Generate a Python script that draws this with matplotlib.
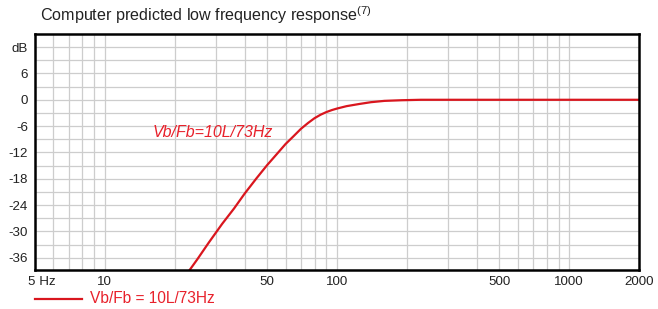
import matplotlib
matplotlib.use("Agg")
import matplotlib.pyplot as plt
import matplotlib.transforms as mtransforms
from matplotlib.lines import Line2D

plt.rcParams['font.family'] = ['Liberation Sans', 'DejaVu Sans']

# Data
freq_hz = [22, 25, 28, 32, 36, 40, 45, 50, 55, 60, 65, 70, 75, 80, 85, 90, 95,
           100, 110, 125, 140, 160, 190, 230, 2000]
response_db = [-40.5, -36.4, -32.6, -28.3, -24.8, -21.4, -17.9, -14.9, -12.4,
               -10.1, -8.3, -6.6, -5.3, -4.2, -3.4, -2.8, -2.35,
               -2.0, -1.45, -0.95, -0.55, -0.25, -0.1, 0.0, 0.0]

x_tick_values = [5, 10, 50, 100, 500, 1000, 2000]
x_tick_labels = ["5 Hz", "10", "50", "100", "500", "1000", "2000"]
y_tick_values = [12, 6, 0, -6, -12, -18, -24, -30, -36]
y_tick_labels = ["dB", "6", "0", "-6", "-12", "-18", "-24", "-30", "-36"]
x_grid_values = list(range(5, 10)) + list(range(10, 100, 10)) + list(range(100, 1001, 100))
y_grid_values = list(range(-36, 15, 3))

series_label = "Vb/Fb = 10L/73Hz"
annotation_text = "Vb/Fb=10L/73Hz"
title_text = "Computer predicted low frequency response"

RED = "#d9161e"
LABEL_RED = "#e8212b"

fig = plt.figure(figsize=(6.58, 3.09), dpi=100)
ax = fig.add_axes([35/658, 1-269.5/309, (639-35)/658, (269.5-34)/309])

ax.set_xscale("log")
ax.set_xlim(5, 2000)
ax.set_ylim(-38.7, 15)

for xv in x_grid_values:
    ax.axvline(xv, color="#cdcdcd", lw=0.9, zorder=1)
for yv in y_grid_values:
    ax.axhline(yv, color="#cdcdcd", lw=0.9, zorder=1)

ax.plot(freq_hz, response_db, color=RED, lw=1.6, zorder=3, solid_capstyle="butt")

ax.set_xticks(x_tick_values)
ax.set_xticklabels(x_tick_labels)
ax.xaxis.set_minor_locator(matplotlib.ticker.NullLocator())
ax.set_yticks(y_tick_values)
ax.set_yticklabels(y_tick_labels)
ax.tick_params(axis="both", length=0, labelsize=9.6, colors="#222222")
ax.tick_params(axis="x", pad=5)
ax.tick_params(axis="y", pad=5)

# shift "5 Hz" label so that the digit sits on the axis start
lbl0 = ax.get_xticklabels()[0]
lbl0.set_transform(lbl0.get_transform() + mtransforms.ScaledTranslation(7/100, 0, fig.dpi_scale_trans))

for sp in ax.spines.values():
    sp.set_linewidth(1.8)
    sp.set_color("black")
    sp.set_zorder(5)

ax.text(29.2, -7.4, annotation_text, color=LABEL_RED, fontsize=11.5,
        style="italic", ha="center", va="center", zorder=4)

fig.text(40/658, 1-15.5/309, title_text + r"$^{\mathregular{(7)}}$", fontsize=11.6,
         color="#222222", ha="left", va="center")

# legend below
fig.add_artist(Line2D([35/658, 82/658], [1-298.5/309, 1-298.5/309],
                      color=RED, lw=1.6, transform=fig.transFigure))
fig.text(90/658, 1-298.5/309, series_label, color=LABEL_RED, fontsize=11.2,
         ha="left", va="center")

fig.savefig("out.png", dpi=100)
